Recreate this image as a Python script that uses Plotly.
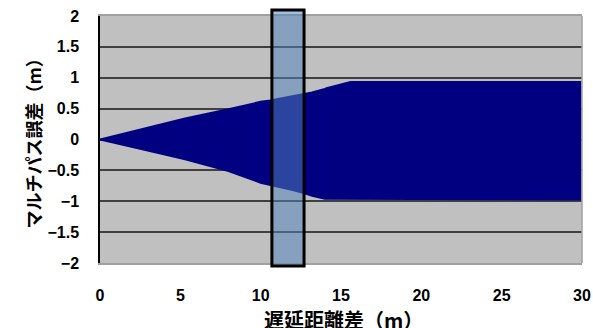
import plotly.graph_objects as go

# Envelope of the multipath error
delay_m = [0, 2.5, 5.3, 8.0, 10.0, 10.6, 12.0, 12.75, 13.2, 14.0, 14.1, 15.0, 15.4, 15.6, 20.0, 25.0, 29.9]
upper_m = [0, 0.16, 0.34, 0.49, 0.61, 0.63, 0.70, 0.73, 0.76, 0.82, 0.83, 0.89, 0.92, 0.93, 0.93, 0.93, 0.93]
lower_m = [0, -0.15, -0.32, -0.51, -0.70, -0.73, -0.82, -0.87, -0.91, -0.96, -0.97, -0.97, -0.97, -0.97, -0.97, -0.97, -0.97]

x_ticks = [0, 5, 10, 15, 20, 25, 30]
y_ticks = [-2, -1.5, -1, -0.5, 0, 0.5, 1, 1.5, 2]
highlight = [10.7, 12.7]

tick_font = dict(family="Liberation Sans, Arial", size=16, color="black", weight="bold")
xtitle_font = dict(family="Noto Sans CJK JP", size=20, color="black", weight="bold")
ytitle_font = dict(family="Noto Sans CJK JP", size=18, color="black", weight="bold")

fig = go.Figure()
fig.add_trace(go.Scatter(
    x=delay_m + delay_m[::-1],
    y=upper_m + lower_m[::-1],
    fill="toself",
    fillcolor="#000080",
    line=dict(color="#000080", width=2),
    mode="lines",
    hoverinfo="skip",
    showlegend=False,
))

fig.add_shape(type="rect", xref="x", yref="paper",
              x0=highlight[0], x1=highlight[1], y0=-0.012, y1=1.024,
              fillcolor="rgba(81,130,188,0.52)",
              line=dict(color="black", width=3), layer="above")
# right border
fig.add_shape(type="line", xref="paper", yref="paper", x0=1, x1=1, y0=0, y1=1,
              line=dict(color="#A0A0A0", width=1.5))

fig.update_layout(
    width=593, height=328,
    margin=dict(l=100, r=11, t=16, b=65, autoexpand=False),
    paper_bgcolor="white",
    plot_bgcolor="#C0C0C0",
    showlegend=False,
    xaxis=dict(range=[0, 30], tickvals=x_ticks, ticktext=[str(v) for v in x_ticks],
               showgrid=False, zeroline=False, showline=True, linecolor="#A0A0A0",
               linewidth=1.5, mirror=True, ticks="", tickfont=tick_font,
               ticklabelstandoff=17, automargin=False),
    yaxis=dict(range=[-2, 2], tickvals=y_ticks,
               ticktext=["−2", "−1.5", "−1", "−0.5", "0", "0.5", "1", "1.5", "2"],
               showgrid=True, gridcolor="#404040", gridwidth=1.5,
               zeroline=False, showline=True, linecolor="black", linewidth=1.5,
               ticks="", tickfont=tick_font, ticklabelstandoff=16, automargin=False),
    annotations=[
        dict(text="遅延距離差（m）", xref="paper", yref="paper", x=0.506, y=-0.228,
             xanchor="center", yanchor="middle", showarrow=False, font=xtitle_font),
        dict(text="マルチパス誤差（m）", xref="paper", yref="paper", x=-0.138, y=0.502,
             xanchor="center", yanchor="middle", showarrow=False, textangle=-90,
             font=ytitle_font),
    ],
)

fig.write_html("out.html",
               config={"responsive": False, "displayModeBar": False},
               post_script="document.body.style.margin='0';document.body.style.overflow='hidden';")
